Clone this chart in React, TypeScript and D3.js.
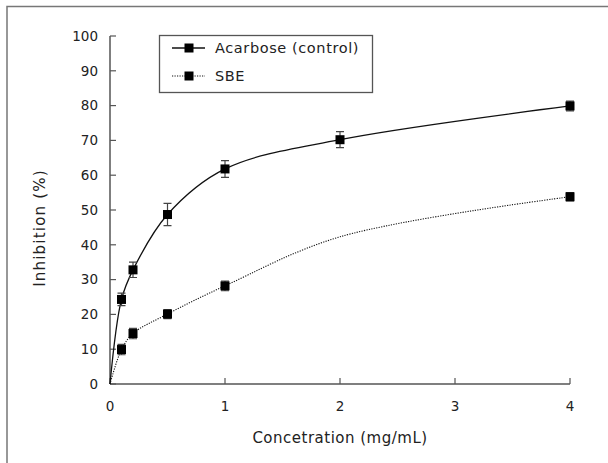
import React, { useEffect, useRef } from "react";
import * as d3 from "d3";

// concentration (mg/mL)
const acarboseX = [0, 0.1, 0.2, 0.5, 1, 2, 4];
const acarboseY = [0, 24.3, 32.8, 48.7, 61.8, 70.2, 79.9];
const acarboseErr = [null, 1.8, 2.2, 3.2, 2.4, 2.3, 1.4];

const sbeX = [0, 0.1, 0.2, 0.5, 1, 2, 4];
const sbeY = [0, 9.9, 14.5, 20.1, 28.2, 42.3, 53.8];
// no marker was drawn at 2 mg/mL for SBE, only the line bends there
const sbeErr = [null, 1.5, 1.5, 1.3, 1.4, null, 1.2];

const xTicks = [0, 1, 2, 3, 4];
const yTicks = [0, 10, 20, 30, 40, 50, 60, 70, 80, 90, 100];

const legendNames = ["Acarbose (control)", "SBE"];

function App() {
  const ref = useRef<SVGSVGElement | null>(null);

  useEffect(() => {
    const svg = d3.select(ref.current);
    svg.selectAll("*").remove();

    const width = 608;
    const height = 463;
    const font = "'DejaVu Sans', sans-serif";

    // frame (only top and left edge are inside the picture)
    svg
      .append("path")
      .attr("d", `M7,${height} V6.5 H${width}`)
      .attr("fill", "none")
      .attr("stroke", "#777")
      .attr("stroke-width", 1.5);

    const x = d3.scaleLinear().domain([0, 4]).range([110, 570]);
    const y = d3.scaleLinear().domain([0, 100]).range([384, 36]);

    // axes: ticks point inward
    const xAxis = svg.append("g").attr("transform", `translate(0,${y(0)})`);
    xAxis
      .append("line")
      .attr("x1", x(0))
      .attr("x2", x(4))
      .attr("stroke", "#555")
      .attr("stroke-width", 1.5);
    xAxis
      .selectAll(".tk")
      .data(xTicks)
      .join("line")
      .attr("x1", (d) => x(d))
      .attr("x2", (d) => x(d))
      .attr("y1", 0)
      .attr("y2", -6)
      .attr("stroke", "#555")
      .attr("stroke-width", 1.2);
    xAxis
      .selectAll("text")
      .data(xTicks)
      .join("text")
      .attr("x", (d) => x(d))
      .attr("y", 27)
      .attr("text-anchor", "middle")
      .attr("font-family", font)
      .attr("font-size", 13.5)
      .attr("fill", "#222")
      .text((d) => d);

    const yAxis = svg.append("g").attr("transform", `translate(${x(0)},0)`);
    yAxis
      .append("line")
      .attr("y1", y(0))
      .attr("y2", y(100))
      .attr("stroke", "#555")
      .attr("stroke-width", 1.5);
    yAxis
      .selectAll(".tk")
      .data(yTicks)
      .join("line")
      .attr("x1", 0)
      .attr("x2", 6)
      .attr("y1", (d) => y(d))
      .attr("y2", (d) => y(d))
      .attr("stroke", "#555")
      .attr("stroke-width", 1.2);
    yAxis
      .selectAll("text")
      .data(yTicks)
      .join("text")
      .attr("x", -12)
      .attr("y", (d) => y(d))
      .attr("dy", "0.36em")
      .attr("text-anchor", "end")
      .attr("font-family", font)
      .attr("font-size", 13.5)
      .attr("fill", "#222")
      .text((d) => d);

    svg
      .append("text")
      .attr("x", 340)
      .attr("y", 443)
      .attr("text-anchor", "middle")
      .attr("font-family", font)
      .attr("font-size", 15)
      .attr("letter-spacing", 0.5)
      .attr("fill", "#222")
      .text("Concetration (mg/mL)");

    svg
      .append("text")
      .attr("transform", `translate(45,${(y(0) + y(100)) / 2 + 18}) rotate(-90)`)
      .attr("text-anchor", "middle")
      .attr("font-family", font)
      .attr("font-size", 15)
      .attr("letter-spacing", 1.2)
      .attr("fill", "#222")
      .text("Inhibition (%)");

    function drawSeries(X: number[], Y: number[], E: (number | null)[], dash: string | null, sw: number) {
      const pts = X.map((v, i) => [x(v), y(Y[i])] as [number, number]);
      const path = svg
        .append("path")
        .attr("d", d3.line().curve(d3.curveCatmullRom.alpha(0.5))(pts))
        .attr("fill", "none")
        .attr("stroke", "#111")
        .attr("stroke-width", sw);
      if (dash) path.attr("stroke-dasharray", dash);

      const idx = d3.range(X.length).filter((i) => E[i] != null);
      const g = svg.append("g");
      idx.forEach((i) => {
        const cx = x(X[i]);
        const top = y(Y[i] + (E[i] as number));
        const bot = y(Y[i] - (E[i] as number));
        g.append("path")
          .attr("d", `M${cx},${top}V${bot}M${cx - 4},${top}H${cx + 4}M${cx - 4},${bot}H${cx + 4}`)
          .attr("fill", "none")
          .attr("stroke", "#444")
          .attr("stroke-width", 1.2);
        g.append("rect")
          .attr("x", cx - 4.5)
          .attr("y", y(Y[i]) - 4.5)
          .attr("width", 9)
          .attr("height", 9)
          .attr("fill", "#000");
      });
    }

    drawSeries(acarboseX, acarboseY, acarboseErr, null, 1.3);
    drawSeries(sbeX, sbeY, sbeErr, "1.2,1.3", 1.1);

    // legend
    const lg = svg.append("g");
    lg.append("rect")
      .attr("x", 159.5)
      .attr("y", 35.5)
      .attr("width", 213)
      .attr("height", 57)
      .attr("fill", "#fff")
      .attr("stroke", "#555")
      .attr("stroke-width", 1.3);
    legendNames.forEach((name, i) => {
      const ly = 48 + i * 28;
      const l = lg
        .append("line")
        .attr("x1", 172)
        .attr("x2", 205)
        .attr("y1", ly)
        .attr("y2", ly)
        .attr("stroke", "#111")
        .attr("stroke-width", i === 0 ? 1.3 : 1.1);
      if (i === 1) l.attr("stroke-dasharray", "1.2,1.3");
      lg.append("rect")
        .attr("x", 189 - 4.5)
        .attr("y", ly - 4.5)
        .attr("width", 9)
        .attr("height", 9)
        .attr("fill", "#000");
      lg.append("text")
        .attr("x", 215)
        .attr("y", ly)
        .attr("dy", "0.36em")
        .attr("font-family", font)
        .attr("font-size", 14.5)
        .attr("letter-spacing", 0.6)
        .attr("fill", "#222")
        .text(name);
    });
  }, []);

  return (
    <svg
      ref={ref}
      width={608}
      height={463}
      style={{ position: "absolute", left: 0, top: 0, background: "#fff" }}
    />
  );
}

export default App;
